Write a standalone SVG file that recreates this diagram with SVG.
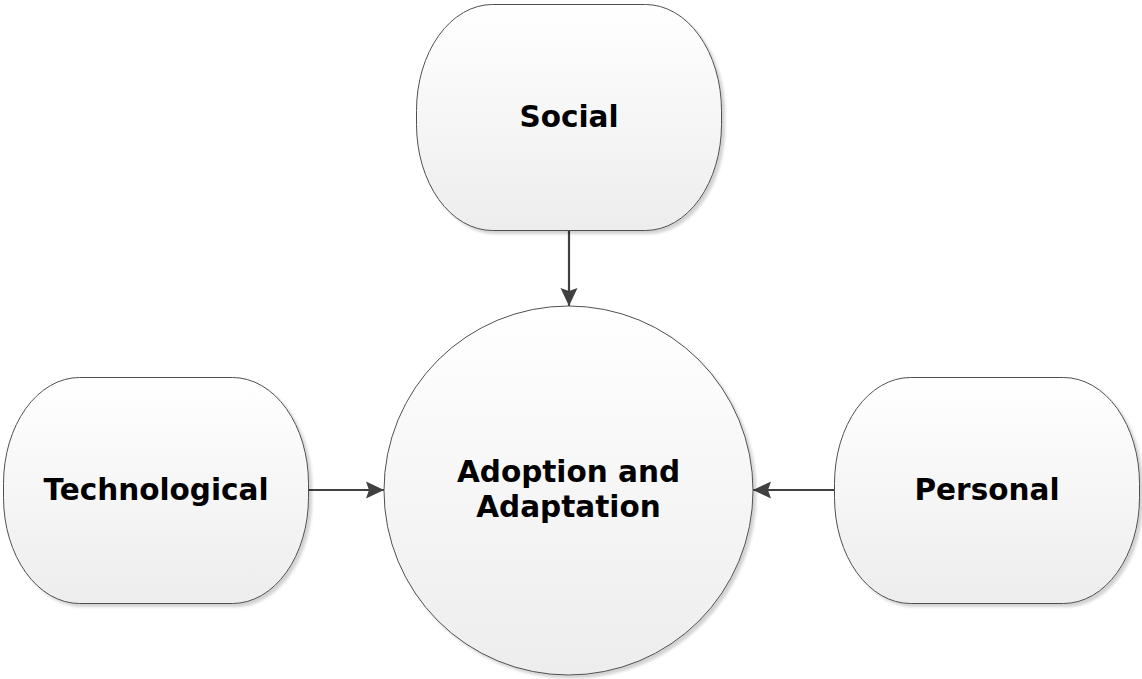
<svg xmlns="http://www.w3.org/2000/svg" width="1142" height="679" viewBox="0 0 1142 679">
  <defs>
    <linearGradient id="nodeFill" x1="0" y1="0" x2="0" y2="1">
      <stop offset="0" stop-color="#ffffff"/>
      <stop offset="1" stop-color="#ededed"/>
    </linearGradient>
    <filter id="softShadow" x="-5%" y="-5%" width="115%" height="115%">
      <feGaussianBlur in="SourceAlpha" stdDeviation="1.5"/>
      <feOffset dx="3" dy="3" result="off"/>
      <feComponentTransfer><feFuncA type="linear" slope="0.18"/></feComponentTransfer>
      <feMerge><feMergeNode/><feMergeNode in="SourceGraphic"/></feMerge>
    </filter>
    <marker id="arrow" viewBox="0 0 18 18" refX="18" refY="9" markerWidth="18" markerHeight="18" markerUnits="userSpaceOnUse" orient="auto">
      <path d="M0,0.5 L18,9 L0,17.5 L3,9 Z" fill="#404040"/>
    </marker>
  </defs>
  <style>
    .shape { fill: url(#nodeFill); stroke: #505050; stroke-width: 1; filter: url(#softShadow); }
    .label { font-family: "DejaVu Sans", Verdana, sans-serif; font-weight: bold; font-size: 29.5px; fill: #000; text-anchor: middle; }
    .link { stroke: #404040; stroke-width: 2.2; fill: none; marker-end: url(#arrow); }
  </style>

  <g id="connectors">
    <line class="link" x1="569" y1="231" x2="569" y2="306"/>
    <line class="link" x1="308" y1="490" x2="384" y2="490"/>
    <line class="link" x1="835" y1="490" x2="753" y2="490"/>
  </g>

  <g id="social">
    <rect class="shape" x="416.5" y="4.5" width="305" height="226" rx="76" ry="106"/>
    <text class="label" x="569" y="127">Social</text>
  </g>

  <g id="technological">
    <rect class="shape" x="3.5" y="377.5" width="305" height="226" rx="76" ry="106"/>
    <text class="label" x="156" y="500">Technological</text>
  </g>

  <g id="personal">
    <rect class="shape" x="834.5" y="377.5" width="305" height="226" rx="76" ry="106"/>
    <text class="label" x="987" y="500">Personal</text>
  </g>

  <g id="adoption">
    <circle class="shape" cx="568.5" cy="490.5" r="184.5"/>
    <text class="label" x="568.5" y="482">Adoption and</text>
    <text class="label" x="568.5" y="517">Adaptation</text>
  </g>
</svg>
